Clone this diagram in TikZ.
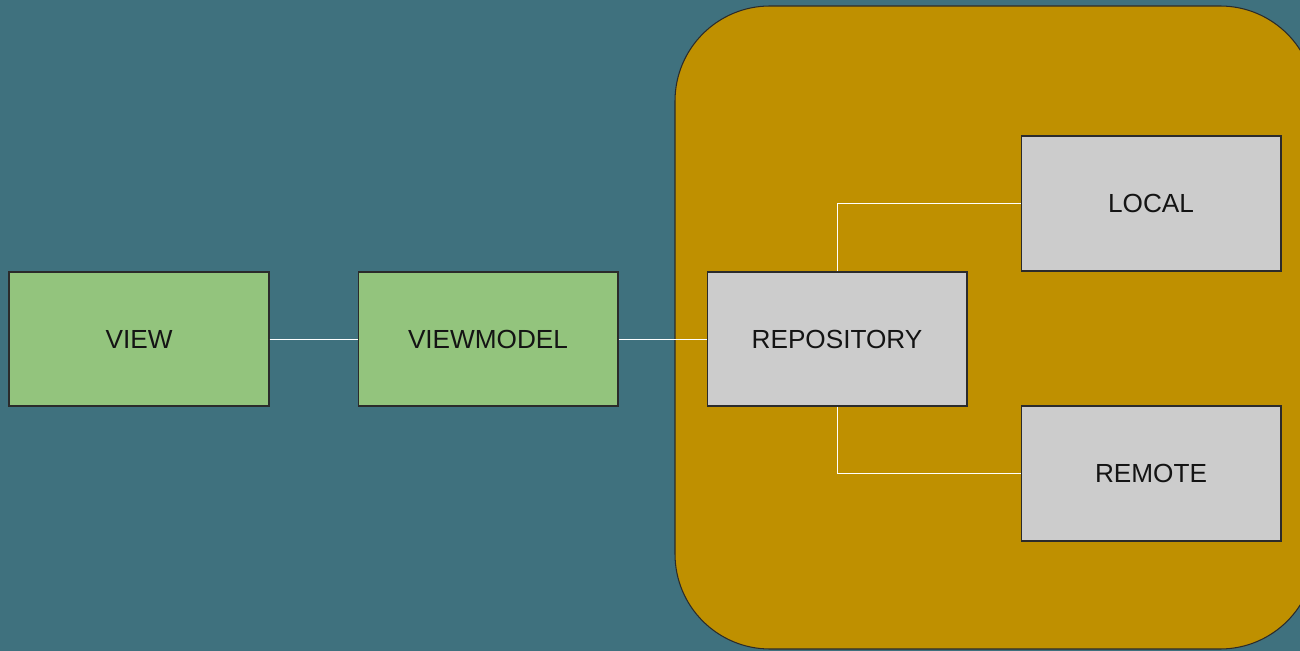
\documentclass[tikz,border=0pt]{standalone}
\usepackage{fontspec}
\setmainfont{Liberation Sans}
\usetikzlibrary{positioning}
\definecolor{bgteal}{HTML}{3F717E}
\definecolor{gold}{HTML}{BF9000}
\definecolor{leaf}{HTML}{93C47D}
\definecolor{stone}{HTML}{CCCCCC}
\definecolor{edge}{HTML}{2B2B2B}
\tikzset{box/.style={draw=edge, line width=0.6pt, minimum width=5.2cm, minimum height=2.68cm, font=\fontsize{14.9}{17}\selectfont, text=black!92}}
\tikzset{wire/.style={draw=white, line width=0.5pt}}

\begin{document}
\begin{tikzpicture}[x=0.02cm,y=-0.02cm]
      \useasboundingbox (0,0) rectangle (1300,651);
      \fill[bgteal] (0,0) rectangle (1300,651);
      \begin{scope}
      \clip (0,0) rectangle (1300,651);
      \draw[edge, fill=gold, line width=0.6pt, rounded corners=1.9cm] (675,6) rectangle (1315,649);
      \end{scope}
      \node[box, fill=leaf] (view) at (139,339) {VIEW};
      \node[box, fill=leaf] (vm) at (488,339) {VIEWMODEL};
      \node[box, fill=stone] (repo) at (837,339) {REPOSITORY};
      \node[box, fill=stone, minimum height=2.7cm] (local) at (1151,203.5) {LOCAL};
      \node[box, fill=stone, minimum height=2.7cm] (remote) at (1151,473.5) {REMOTE};
      \draw[wire] (view) -- (vm);
      \draw[wire] (vm) -- (repo);
      \draw[wire] (repo.north) |- (local.west);
      \draw[wire] (repo.south) |- (remote.west);
    \end{tikzpicture}
\end{document}
